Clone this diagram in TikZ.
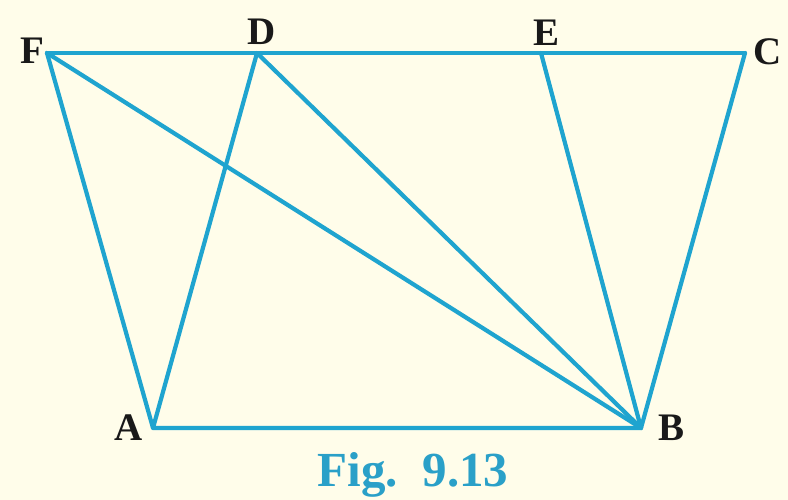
\documentclass[tikz,border=0pt]{standalone}
\usepackage{fontspec}
\setmainfont{Liberation Serif}
\definecolor{bgc}{HTML}{FFFDEA}
\definecolor{lnc}{HTML}{1FA4CF}
\definecolor{figc}{HTML}{2AA0C8}
\begin{document}
\begin{tikzpicture}[x=1pt,y=-1pt,
  edge/.style={draw=lnc,line width=4.2pt,line cap=round,line join=round},
  lbl/.style={font=\fontsize{39}{39}\selectfont\bfseries,text=black!90,inner sep=0pt}]
\fill[bgc] (0,0) rectangle (788,500);
\useasboundingbox (0,0) rectangle (788,500);
\coordinate (F) at (47,53);
\coordinate (D) at (257,53);
\coordinate (E) at (541,53);
\coordinate (C) at (745,53);
\coordinate (A) at (153,428);
\coordinate (B) at (641,428);
\draw[edge] (F) -- (D) -- (E) -- (C);
\draw[edge] (F) -- (A) -- (B) -- (C);
\draw[edge] (A) -- (D) -- (B);
\draw[edge] (F) -- (B);
\draw[edge] (E) -- (B);
\node[lbl] (lF) at (32,51) {F};
\node[lbl] (lD) at (262,32) {D};
\node[lbl] (lE) at (547,33) {E};
\node[lbl] (lC) at (768,52) {C};
\node[lbl] (lA) at (129,428) {A};
\node[lbl] (lB) at (672,428) {B};
\node[font=\fontsize{49}{49}\selectfont\bfseries,text=figc,inner sep=0pt,anchor=base] (cap) at (413,486) {Fig.\ \ 9.13};
\end{tikzpicture}
\end{document}
